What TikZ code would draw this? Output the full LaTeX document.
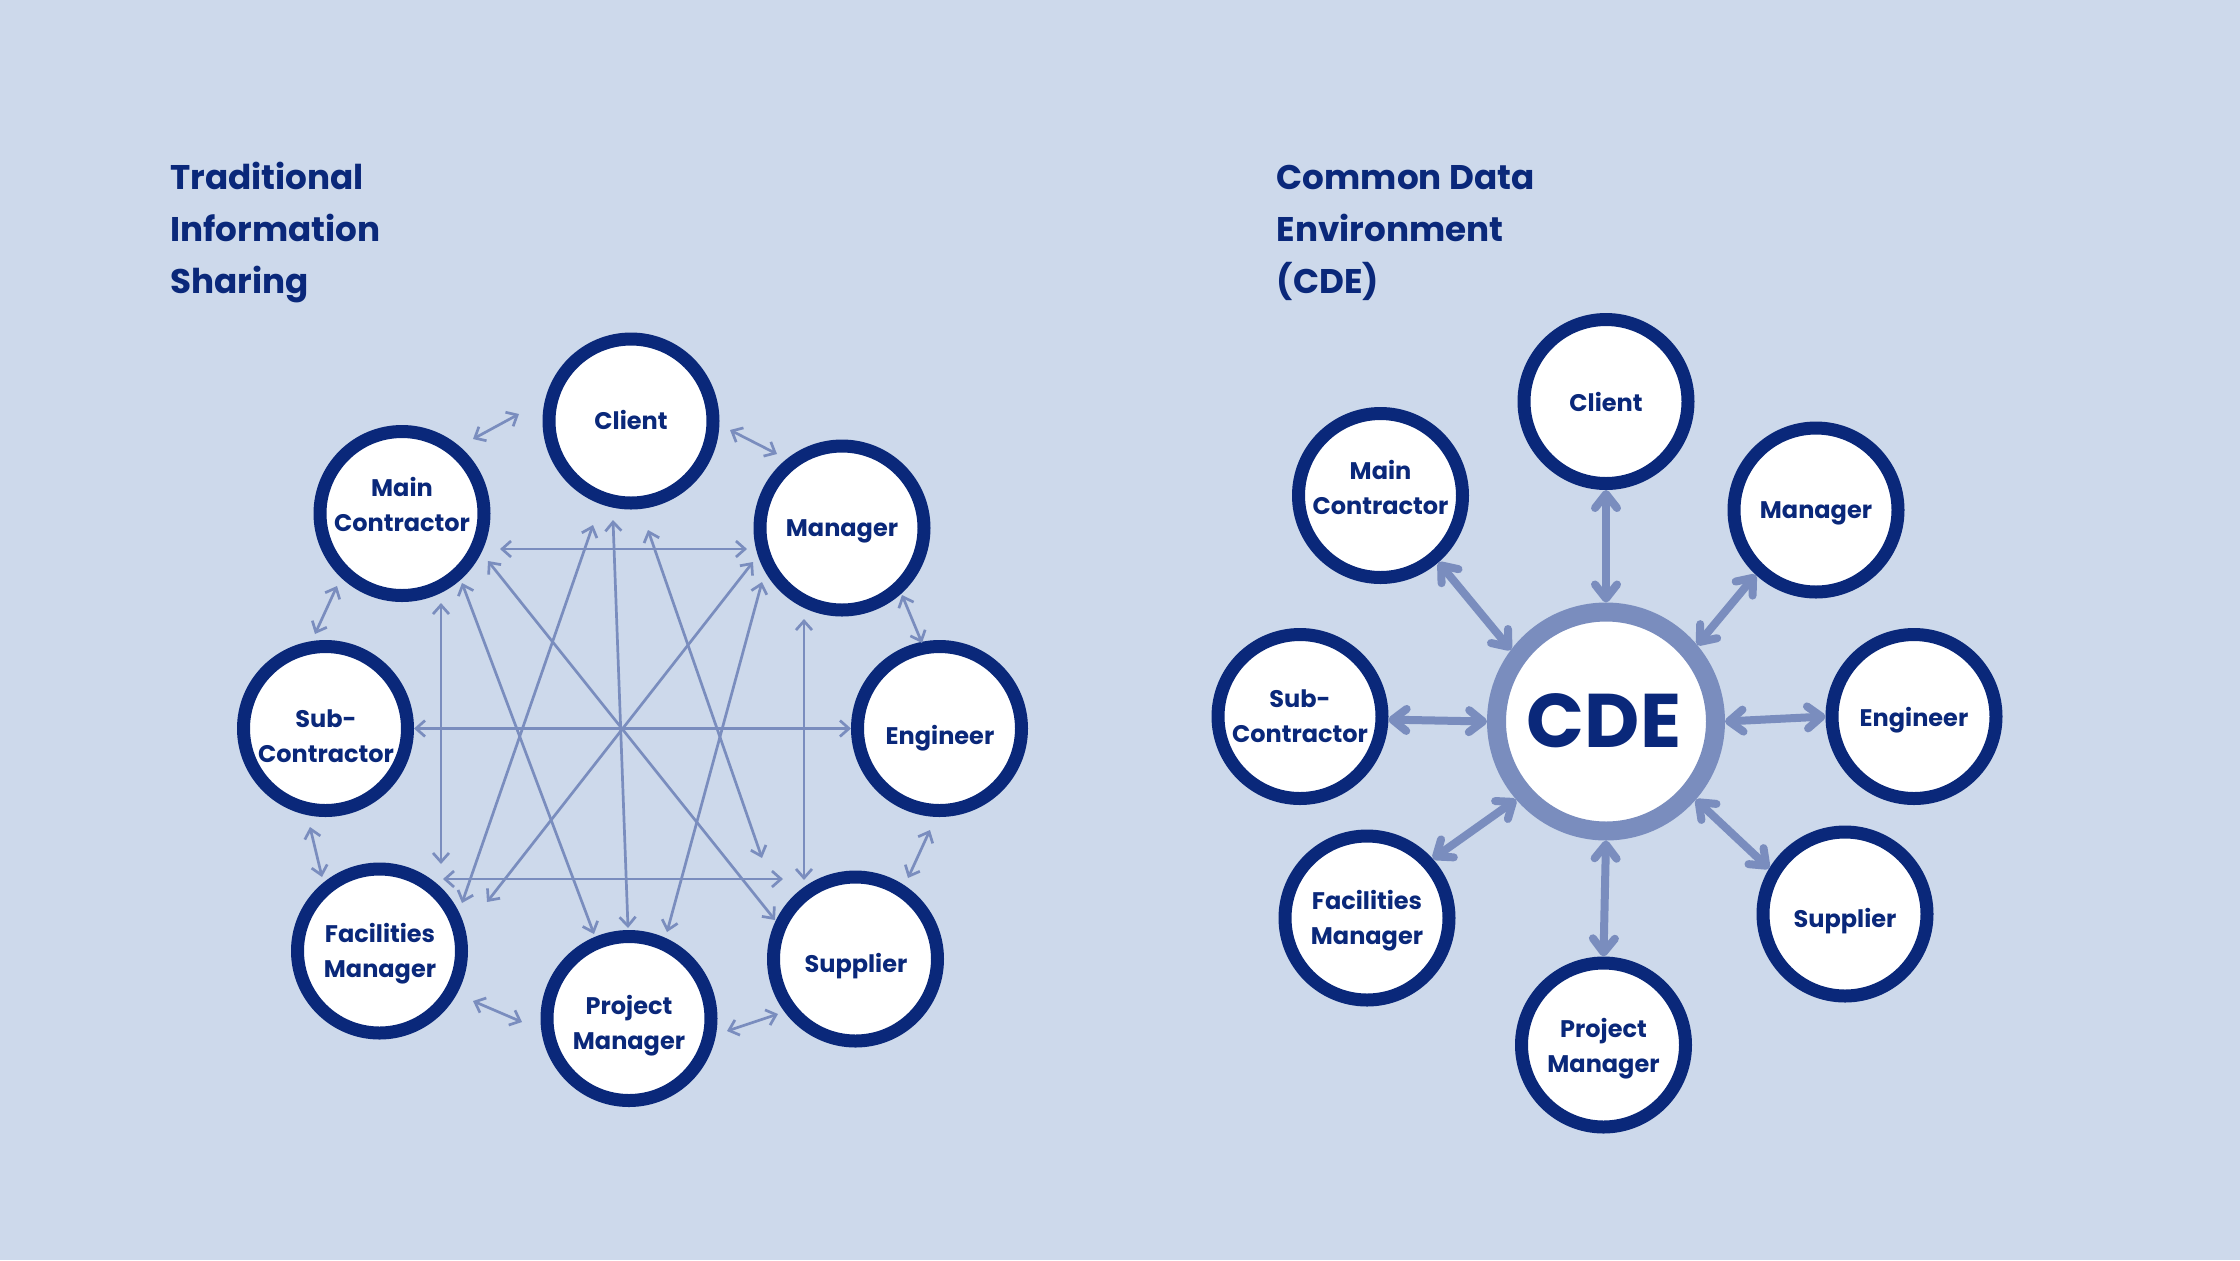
\documentclass[tikz,border=0pt]{standalone}
\usepackage{fontspec}
\setmainfont{Poppins}
\usetikzlibrary{arrows.meta}
\definecolor{bg}{RGB}{205,217,235}
\definecolor{navy}{RGB}{10,40,122}
\definecolor{linkc}{RGB}{122,141,190}
\begin{document}
\begin{tikzpicture}[x=0.5pt,y=-0.5pt,
  actor/.style={circle,draw=navy,fill=white,line width=6.5pt,minimum size=82pt,inner sep=0pt},
  hub/.style={circle,draw=linkc,fill=white,line width=9.5pt,minimum size=109.5pt,inner sep=0pt},
  lbl/.style={text=navy,font=\bfseries\fontsize{12}{17.5}\selectfont,align=center,inner sep=0pt,text depth=0pt},
  hublbl/.style={text=navy,font=\bfseries\fontsize{38}{40}\selectfont,inner sep=0pt,text depth=0pt},
  title/.style={anchor=base west,text=navy,font=\bfseries\fontsize{17.1}{26}\selectfont,inner sep=0pt},
  thinlink/.style={draw=linkc,line width=1.35pt,{Straight Barb[length=4.5pt,width=8pt]}-{Straight Barb[length=4.5pt,width=8pt]}},
  thicklink/.style={draw=linkc,line width=4pt,line cap=round,{Straight Barb[length=7pt,width=11pt,round]}-{Straight Barb[length=7pt,width=11pt,round]}},
]
\useasboundingbox (0,0) rectangle (2240,1260);
\fill[bg] (0,0) rectangle (2240,1260);

% ---------- titles ----------
\node[title] (t1a) at (170,189) {Traditional};
\node[title] (t1b) at (170,241.5) {Information};
\node[title] (t1c) at (170,293) {Sharing};
\node[title] (t2a) at (1276.5,189) {Common Data};
\node[title] (t2b) at (1276.5,241.5) {Environment};
\node[title] (t2c) at (1276.5,293) {(CDE)};

% ---------- left: traditional ----------
\node[actor] (lClient) at (631,421) {};
\node[actor] (lMainC) at (402,513.5) {};
\node[actor] (lManager) at (842,528) {};
\node[actor] (lSubC) at (325.5,728.5) {};
\node[actor] (lEngineer) at (939.5,728.5) {};
\node[actor] (lFacM) at (379.5,951) {};
\node[actor] (lPM) at (629,1018.5) {};
\node[actor] (lSupplier) at (855.5,959) {};

\node[lbl] (lClientT) at (631,420) {Client};
\node[lbl] (lMainCT) at (402,504) {Main\\Contractor};
\node[lbl] (lManagerT) at (842,528) {Manager};
\node[lbl] (lSubCT) at (326,736) {Sub-\\Contractor};
\node[lbl] (lEngineerT) at (940,735) {Engineer};
\node[lbl] (lFacMT) at (380,950) {Facilities\\Manager};
\node[lbl] (lPMT) at (629,1022) {Project\\Manager};
\node[lbl] (lSupplierT) at (856,963) {Supplier};

% neighbour arrows
\coordinate (s1a) at (473,439);  \coordinate (s1b) at (519,414);
\coordinate (s2a) at (730,430);  \coordinate (s2b) at (777,454);
\coordinate (s3a) at (902,595);  \coordinate (s3b) at (922,643);
\coordinate (s4a) at (930,830);  \coordinate (s4b) at (908,878);
\coordinate (s5a) at (778,1014); \coordinate (s5b) at (727,1031);
\coordinate (s6a) at (522,1022); \coordinate (s6b) at (473,1001);
\coordinate (s7a) at (322,877);  \coordinate (s7b) at (310,827);
\coordinate (s8a) at (315,634);  \coordinate (s8b) at (337,586);
\foreach \i in {1,...,8} \draw[thinlink] (s\i a) -- (s\i b);

% mesh arrows
\coordinate (m1a) at (500,549);  \coordinate (m1b) at (747,549);
\coordinate (m3a) at (443,879);  \coordinate (m3b) at (783,879);
\coordinate (m4a) at (441,603);  \coordinate (m4b) at (441,864);
\coordinate (m5a) at (804,619);  \coordinate (m5b) at (804,880);
\coordinate (m6a) at (613,520);  \coordinate (m6b) at (628,928);
\coordinate (m7a) at (593,525);  \coordinate (m7b) at (462,903);
\coordinate (m8a) at (648,530);  \coordinate (m8b) at (762,858);
\coordinate (m9a) at (488,561);  \coordinate (m9b) at (775,920);
\coordinate (m10a) at (462,583); \coordinate (m10b) at (594,934);
\coordinate (m11a) at (753,562); \coordinate (m11b) at (487,902);
\coordinate (m12a) at (762,582); \coordinate (m12b) at (667,932);
\draw[thinlink] (lSubC.east) -- (lEngineer.west);
\foreach \i in {1,3,4,5,6,7,8,9,10,11,12} \draw[thinlink] (m\i a) -- (m\i b);

% ---------- right: CDE ----------
\node[hub] (CDE) at (1606,721.5) {};
\node[hublbl] (CDET) at (1604,721) {CDE};
\node[actor] (rClient) at (1606,401.5) {};
\node[actor] (rMainC) at (1380.5,495.5) {};
\node[actor] (rManager) at (1816,510) {};
\node[actor] (rSubC) at (1300,716.5) {};
\node[actor] (rEngineer) at (1914,716.5) {};
\node[actor] (rFacM) at (1367,918) {};
\node[actor] (rSupplier) at (1845,914) {};
\node[actor] (rPM) at (1603.5,1045) {};

\node[lbl] (rClientT) at (1606,401.5) {Client};
\node[lbl] (rMainCT) at (1380.5,487.5) {Main\\Contractor};
\node[lbl] (rManagerT) at (1816,510) {Manager};
\node[lbl] (rSubCT) at (1300,716.5) {Sub-\\Contractor};
\node[lbl] (rEngineerT) at (1914,716.5) {Engineer};
\node[lbl] (rFacMT) at (1367,917.5) {Facilities\\Manager};
\node[lbl] (rSupplierT) at (1845,918) {Supplier};
\node[lbl] (rPMT) at (1603.5,1045) {Project\\Manager};

\draw[thicklink] (rClient.-90) -- (CDE.90);
\draw[thicklink] (rMainC.-49) -- (CDE.143);
\draw[thicklink] (rManager.-133) -- (CDE.40);
\draw[thicklink] (rSubC.-2.6) -- (CDE.180);
\draw[thicklink] (CDE.0) -- (rEngineer.180);
\draw[thicklink] (CDE.-41) -- (rSupplier.149.5);
\draw[thicklink] (CDE.-90) -- (rPM.90);
\draw[thicklink] (CDE.-139.7) -- (rFacM.42.7);
\end{tikzpicture}
\end{document}
